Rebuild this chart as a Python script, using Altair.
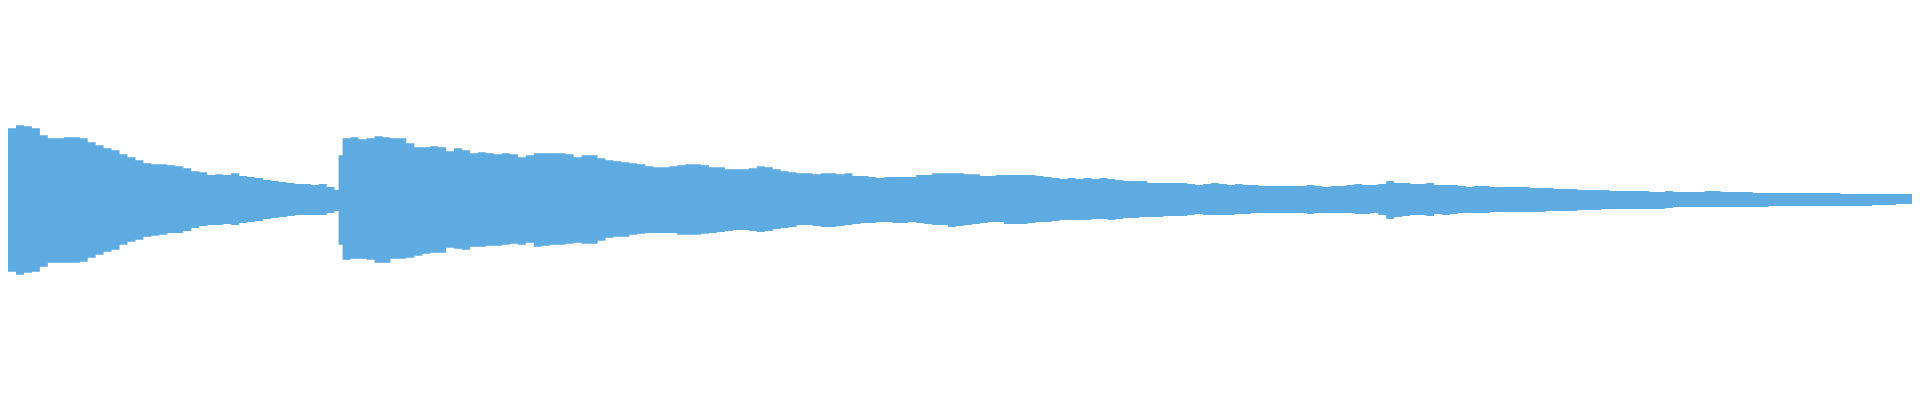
import altair as alt
import pandas as pd

# time positions (sample index, 0..1920) at which the envelope changes
time = list(range(0, 336, 8)) + [336, 340] + list(range(344, 1920, 8)) + [1920]

# upper envelope (positive peak amplitude)
upper = [
    88, 72, 75, 74, 72, 65, 62, 62, 63, 63,
    62, 58, 55, 52, 50, 46, 43, 40, 37, 36,
    36, 35, 34, 32, 29, 28, 25, 26, 25, 27,
    24, 23, 22, 20, 19, 18, 17, 16, 16, 15,
    16, 13,
    10, 45,
    62, 63, 61, 62, 64, 63, 62,
    62, 57, 53, 53, 54, 53, 49, 52, 50, 47,
    48, 47, 46, 47, 46, 43, 45, 47, 47, 47,
    47, 46, 43, 45, 45, 42, 40, 39, 38, 37,
    36, 34, 33, 33, 34, 35, 36, 36, 35, 33,
    33, 31, 31, 31, 32, 34, 33, 31, 29, 28,
    27, 27, 26, 27, 27, 26, 27, 24, 24, 23,
    22, 23, 23, 23, 23, 25, 25, 27, 27, 27,
    27, 26, 26, 24, 24, 25, 25, 25, 25, 25,
    24, 23, 22, 21, 22, 21, 22, 21, 22, 21,
    20, 19, 19, 19, 17, 17, 17, 17, 17, 16,
    15, 16, 17, 16, 15, 16, 15, 15, 14, 14,
    14, 14, 14, 14, 15, 14, 13, 14, 14, 15,
    16, 15, 15, 16, 19, 17, 17, 16, 16, 17,
    15, 15, 15, 14, 13, 14, 14, 13, 13, 13,
    13, 13, 12, 12, 12, 11, 11, 11, 10, 10,
    10, 10, 9, 9, 9, 9, 9, 8, 8, 9,
    8, 8, 8, 8, 9, 9, 8, 8, 8, 8,
    7, 7, 7, 7, 7, 7, 7, 7, 7, 7,
    7, 6, 6, 6, 6, 6, 6, 6, 6, 6,
    6,
]

# lower envelope (negative peak amplitude, magnitude)
lower = [
    80, 72, 75, 73, 72, 67, 63, 63, 63, 63,
    62, 58, 55, 52, 50, 45, 42, 40, 37, 36,
    35, 33, 33, 31, 28, 26, 25, 25, 24, 25,
    23, 22, 21, 19, 18, 17, 16, 15, 15, 15,
    15, 13,
    11, 45,
    60, 59, 59, 60, 63, 63, 59,
    59, 58, 56, 54, 53, 53, 48, 49, 50, 47,
    47, 46, 46, 45, 44, 45, 43, 47, 46, 45,
    45, 44, 43, 44, 44, 41, 38, 37, 37, 35,
    34, 33, 33, 33, 33, 35, 35, 35, 34, 33,
    32, 31, 30, 30, 31, 32, 31, 29, 28, 27,
    25, 25, 26, 27, 27, 26, 25, 24, 23, 23,
    22, 22, 23, 23, 22, 23, 24, 25, 25, 27,
    26, 25, 24, 23, 22, 22, 24, 24, 24, 23,
    22, 22, 21, 20, 20, 20, 20, 19, 19, 20,
    19, 18, 18, 17, 17, 17, 16, 16, 16, 15,
    14, 15, 15, 15, 15, 14, 14, 13, 13, 13,
    13, 13, 13, 13, 14, 13, 13, 13, 13, 13,
    14, 14, 13, 15, 19, 17, 16, 15, 15, 16,
    14, 15, 14, 13, 13, 13, 13, 12, 12, 12,
    12, 12, 12, 12, 11, 11, 11, 11, 10, 10,
    10, 9, 9, 9, 9, 9, 9, 9, 9, 8,
    7, 7, 7, 7, 7, 7, 7, 7, 7, 7,
    7, 7, 6, 6, 6, 6, 6, 6, 6, 6,
    6, 6, 6, 6, 6, 5, 5, 5, 4, 4,
    4,
]

df = pd.DataFrame({"t": time, "upper": upper, "lower": [-v for v in lower]})

chart = (
    alt.Chart(df)
    .mark_area(interpolate="step-after", color="#5DABE1", opacity=1)
    .encode(
        x=alt.X("t:Q", scale=alt.Scale(domain=[0, 1920], nice=False, zero=False), axis=None),
        y=alt.Y("upper:Q", scale=alt.Scale(domain=[-200, 200], nice=False), axis=None),
        y2="lower:Q",
    )
    .properties(
        width=1920,
        height=400,
        autosize="none",
        padding={"left": -8, "top": -8, "right": 0, "bottom": 0},
        background="white",
    )
    .configure_view(stroke=None)
)

chart.save("out.html", embed_options={"renderer": "svg", "actions": False})
